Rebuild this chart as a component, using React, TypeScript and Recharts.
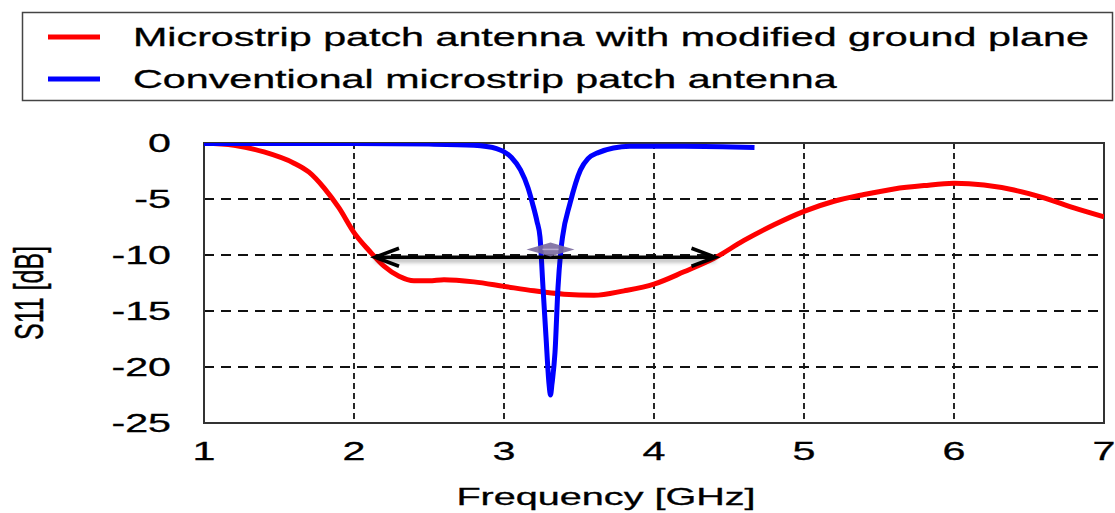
import {
  CartesianGrid,
  Legend,
  Line,
  LineChart,
  ReferenceArea,
  ReferenceDot,
  XAxis,
  YAxis,
} from "recharts";

// the original figure is stretched sideways, so text gets the same stretch
const SX = 1.65;
const FONT = "'Liberation Sans', Arial, sans-serif";

const freqTicks = [1, 2, 3, 4, 5, 6, 7];
const s11Ticks = [0, -5, -10, -15, -20, -25];

const seriesNames = [
  "Microstrip patch antenna with modified ground plane",
  "Conventional microstrip patch antenna",
];
const seriesColors = ["#ff0000", "#0000ff"];

const modifiedFreq = [
  1.0, 1.2, 1.4, 1.6, 1.7, 1.8, 1.9, 2.0, 2.1, 2.2, 2.3, 2.4, 2.5, 2.6, 2.8,
  3.0, 3.2, 3.4, 3.6, 3.8, 4.0, 4.2, 4.4, 4.6, 4.8, 5.0, 5.2, 5.4, 5.6, 5.8,
  6.0, 6.2, 6.4, 6.6, 6.8, 7.0,
];
const modifiedS11 = [
  0, -0.2, -0.8, -1.8, -2.6, -4.0, -5.8, -8.0, -9.6, -11.0, -11.9, -12.3,
  -12.3, -12.2, -12.4, -12.8, -13.2, -13.5, -13.6, -13.2, -12.6, -11.5, -10.3,
  -8.7, -7.3, -6.1, -5.2, -4.6, -4.1, -3.8, -3.6, -3.75, -4.2, -4.9, -5.8,
  -6.6,
];

const conventionalFreq = [
  1.0, 2.0, 2.5, 2.8, 2.95, 3.05, 3.11, 3.16, 3.19, 3.22, 3.24, 3.26, 3.28,
  3.3, 3.31, 3.32, 3.34, 3.36, 3.38, 3.39, 3.44, 3.51, 3.56, 3.62, 3.84, 4.2,
  4.67,
];
const conventionalS11 = [
  -0.05, -0.05, -0.1, -0.2, -0.5, -1.3, -2.4, -4.0, -5.4, -7.0, -8.4, -12.9,
  -17.3, -21.5, -22.5, -21.5, -18.7, -12.9, -9.5, -8.4, -5.4, -2.4, -1.4, -0.9,
  -0.3, -0.3, -0.4,
];

const bandwidthFreq = [2.14, 4.41];
const bandwidthLevel = -10.2;
const resonanceFreq = 3.31;
const resonanceLevel = -9.5;

const modified = modifiedFreq.map((f, i) => ({ f, v: modifiedS11[i] }));
const conventional = conventionalFreq.map((f, i) => ({
  f,
  v: conventionalS11[i],
}));
const bandwidth = bandwidthFreq.map((f) => ({ f, v: bandwidthLevel }));

function StretchText({ x, y, anchor = "start", size = 25, rotate = false, children }: any) {
  return (
    <text
      transform={`translate(${x},${y}) scale(${SX},1)${rotate ? " rotate(-90)" : ""}`}
      textAnchor={anchor}
      fontSize={size}
      fontFamily={FONT}
      fill="#000"
      stroke="#000"
      strokeWidth={0.3}
    >
      {children}
    </text>
  );
}

function FreqTick({ x, y, payload }: any) {
  return (
    <StretchText x={x} y={y + 29} anchor="middle">
      {payload.value}
    </StretchText>
  );
}

function S11Tick({ x, y, payload }: any) {
  return (
    <StretchText x={x - 25} y={y + 9} anchor="end">
      {payload.value}
    </StretchText>
  );
}

function ArrowHead({ cx, cy, index }: any) {
  const d = index === 0 ? -1 : 1;
  return (
    <path
      d={`M${cx - d * 24},${cy - 9} L${cx},${cy} L${cx - d * 24},${cy + 9}`}
      fill="none"
      stroke="#000"
      strokeWidth={3.5}
    />
  );
}

function Diamond({ cx, cy }: any) {
  return (
    <g>
      <polygon
        points={`${cx - 24},${cy} ${cx},${cy - 7} ${cx + 24},${cy} ${cx},${cy + 7}`}
        fill="#7a6a9f"
        fillOpacity={0.9}
      />
      <line x1={cx - 8} x2={cx + 8} y1={cy} y2={cy} stroke="#b8acd0" strokeWidth={1.5} />
    </g>
  );
}

function LegendBox() {
  return (
    <svg width={1115} height={110}>
      <rect
        x={22.5}
        y={12.5}
        width={1090}
        height={88}
        fill="#fff"
        stroke="#444"
        strokeWidth={1.5}
      />
      {seriesNames.map((name, i) => (
        <g key={name}>
          <line
            x1={48}
            x2={100}
            y1={37 + i * 42}
            y2={37 + i * 42}
            stroke={seriesColors[i]}
            strokeWidth={5}
          />
          <StretchText x={133} y={46 + i * 42}>
            {name}
          </StretchText>
        </g>
      ))}
    </svg>
  );
}

function XTitle({ viewBox }: any) {
  return (
    <StretchText x={viewBox.x + viewBox.width / 2 - 48} y={505} anchor="middle" size={24}>
      Frequency [GHz]
    </StretchText>
  );
}

function YTitle({ viewBox }: any) {
  return (
    <StretchText x={43} y={viewBox.y + viewBox.height / 2 + 10} anchor="middle" rotate>
      S11 [dB]
    </StretchText>
  );
}

export default function App() {
  return (
    <div style={{ position: "absolute", left: 0, top: 0, background: "#fff" }}>
      <LineChart
        width={1115}
        height={513}
        margin={{ top: 143, right: 11, left: 0, bottom: 0 }}
      >
        <CartesianGrid
          horizontal={false}
          stroke="#111"
          strokeWidth={1.8}
          strokeDasharray="6 4"
        />
        <CartesianGrid
          vertical={false}
          stroke="#111"
          strokeWidth={1.8}
          strokeDasharray="10 7"
        />
        <XAxis
          type="number"
          dataKey="f"
          domain={[1, 7]}
          ticks={freqTicks}
          allowDataOverflow
          axisLine={false}
          tickLine={false}
          height={90}
          tick={<FreqTick />}
          label={<XTitle />}
        />
        <YAxis
          type="number"
          dataKey="v"
          domain={[-25, 0]}
          ticks={s11Ticks}
          allowDataOverflow
          axisLine={false}
          tickLine={false}
          width={204}
          tick={<S11Tick />}
          label={<YTitle />}
        />
        <ReferenceArea
          x1={1}
          x2={7}
          y1={-25}
          y2={0}
          fill="none"
          stroke="#333"
          strokeWidth={2}
        />
        <Legend
          layout="horizontal"
          verticalAlign="middle"
          align="center"
          content={<LegendBox />}
          wrapperStyle={{ position: "absolute", left: 0, top: 0, width: 1115, height: 110 }}
        />
        <Line
          data={modified}
          dataKey="v"
          name={seriesNames[0]}
          stroke={seriesColors[0]}
          strokeWidth={5}
          dot={false}
          type="monotone"
          isAnimationActive={false}
        />
        <Line
          data={conventional}
          dataKey="v"
          name={seriesNames[1]}
          stroke={seriesColors[1]}
          strokeWidth={5}
          dot={false}
          type="monotone"
          isAnimationActive={false}
        />
        <Line
          data={bandwidth}
          dataKey="v"
          legendType="none"
          stroke="#000"
          strokeWidth={3.5}
          dot={<ArrowHead />}
          style={{ filter: "drop-shadow(0px 3px 2px rgba(0,0,0,0.35))" }}
          isAnimationActive={false}
        />
        <ReferenceDot
          x={resonanceFreq}
          y={resonanceLevel}
          shape={<Diamond />}
        />
      </LineChart>
    </div>
  );
}
